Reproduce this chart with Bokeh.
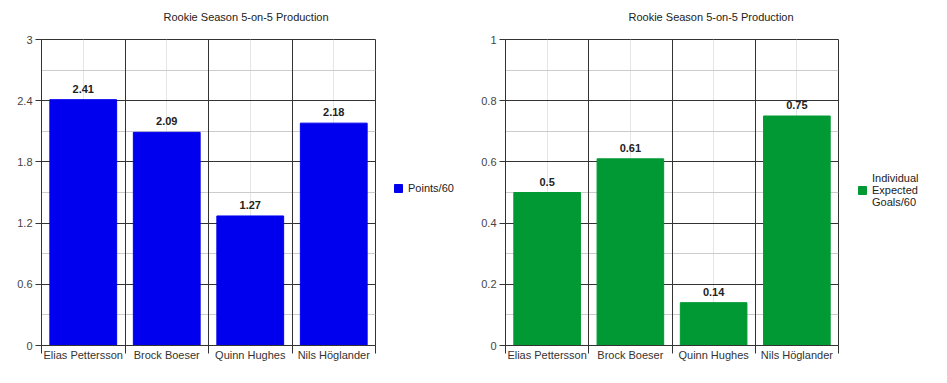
from bokeh.plotting import figure
from bokeh.models import (FactorRange, ColumnDataSource, LabelSet, Legend, LegendItem,
                          FixedTicker, LinearAxis, CategoricalAxis, Grid, Label)
from bokeh.core.properties import value
from bokeh.layouts import row, column
from bokeh.embed import file_html
from bokeh.resources import INLINE

players = ["Elias Pettersson", "Brock Boeser", "Quinn Hughes", "Nils Höglander"]
points60 = [2.41, 2.09, 1.27, 2.18]
ixg60 = [0.5, 0.61, 0.14, 0.75]

left_ticks = [0, 0.6, 1.2, 1.8, 2.4, 3]
left_tick_labels = ["0", "0.6", "1.2", "1.8", "2.4", "3"]
left_minor = [0.3, 0.9, 1.5, 2.1, 2.7]
right_ticks = [0, 0.2, 0.4, 0.6, 0.8, 1]
right_tick_labels = ["0", "0.2", "0.4", "0.6", "0.8", "1"]
right_minor = [0.1, 0.3, 0.5, 0.7, 0.9]
boundaries = [0, 1, 2, 3, 4]

title_text = "Rookie Season 5-on-5 Production"
FONT = "Liberation Sans"
DARK = "#333333"
MAIN_H = 346


def bare(width, height):
    f = figure(width=width, height=height, x_range=(0, width), y_range=(0, height),
               output_backend="svg", toolbar_location=None,
               x_axis_location=None, y_axis_location=None,
               min_border=0, min_border_left=0, min_border_right=0,
               min_border_top=0, min_border_bottom=0)
    f.outline_line_color = None
    f.grid.visible = False
    return f


def title_strip(width, x):
    f = bare(width, 24)
    f.add_layout(Label(x=x, y=8, text=title_text, text_baseline="middle",
                       text_align="left", text_font=FONT, text_font_size="11px",
                       text_color="#222222"))
    return f


def legend_fig(width, values, color, series_label, loc, line_height):
    f = bare(width, MAIN_H)
    # hidden renderer that only supplies the legend swatch style
    r = f.vbar(x=[0], top=values[:1], width=1, fill_color=color, line_color=color,
               visible=False)
    f.add_layout(Legend(items=[LegendItem(label=series_label, renderers=[r])],
                        location=loc, padding=0, margin=0,
                        border_line_color=None, background_fill_alpha=0,
                        glyph_width=10, glyph_height=10, label_standoff=5,
                        label_height=10,
                        label_text_font=FONT, label_text_font_size="11px",
                        label_text_color="#222222",
                        label_text_line_height=line_height))
    return f


def make(values, color, ticks, tick_labels, minor, ymax, width, border_left):
    p = figure(x_range=FactorRange(*players), y_range=(0, ymax),
               width=width, height=MAIN_H,
               min_border_left=border_left, min_border_right=2,
               min_border_top=15, min_border_bottom=25,
               output_backend="svg", toolbar_location=None,
               x_axis_location=None, y_axis_location="left")
    p.outline_line_color = DARK
    p.outline_line_alpha = 1

    yax = p.yaxis[0]
    yax.ticker = FixedTicker(ticks=ticks, minor_ticks=minor)
    yax.major_label_overrides = {t: l for t, l in zip(ticks, tick_labels)}
    yax.axis_line_color = DARK
    yax.major_tick_line_color = DARK
    yax.major_tick_in = 0
    yax.major_tick_out = 6
    yax.minor_tick_line_color = None
    yax.major_label_text_font = FONT
    yax.major_label_text_font_size = "11px"
    yax.major_label_text_color = "#444444"
    yax.major_label_standoff = 3
    p.ygrid.grid_line_color = DARK
    p.ygrid.grid_line_alpha = 1
    p.ygrid.minor_grid_line_color = "#cccccc"

    bax = LinearAxis(ticker=FixedTicker(ticks=boundaries))
    bax.major_label_overrides = {b: "" for b in boundaries}
    bax.major_label_text_font_size = "1px"
    bax.major_label_standoff = 0
    bax.axis_line_color = DARK
    bax.major_tick_line_color = DARK
    bax.major_tick_in = 0
    bax.major_tick_out = 8
    bax.minor_tick_line_color = None
    p.add_layout(bax, "below")

    p.add_layout(Grid(dimension=0, axis=bax, ticker=FixedTicker(ticks=boundaries),
                      grid_line_color=DARK))

    cax = CategoricalAxis()
    cax.axis_line_color = None
    cax.major_tick_line_color = None
    cax.minor_tick_line_color = None
    cax.major_label_text_font = FONT
    cax.major_label_text_font_size = "11px"
    cax.major_label_text_color = "#333333"
    cax.major_label_standoff = -11
    p.add_layout(cax, "below")

    src = ColumnDataSource(dict(player=players, value=values,
                                label=[str(v) for v in values]))
    p.vbar(x="player", top="value", width=0.8, source=src,
           fill_color=color, line_color=color)
    p.add_layout(LabelSet(x="player", y="value", text="label", source=src,
                          y_offset=7, text_align="center", text_baseline="bottom",
                          text_font=value(FONT), text_font_size=value("11px"),
                          text_font_style=value("bold"), text_color="#222222"))
    return p


m1 = make(points60, "#0000ee", left_ticks, left_tick_labels, left_minor, 3, 377, 41)
l1 = legend_fig(93, points60, "#0000ee", "Points/60", (16, 151), 1.25)
m2 = make(ixg60, "#009933", right_ticks, right_tick_labels, right_minor, 1, 370, 35)
l2 = legend_fig(100, ixg60, "#009933", "Individual\nExpected\nGoals/60", (17, 137), 1.45)

t1 = title_strip(470, 163)
t2 = title_strip(470, 158)

layout = column(row(t1, t2), row(m1, l1, m2, l2))
open("out.html", "w").write(file_html(layout, INLINE))
